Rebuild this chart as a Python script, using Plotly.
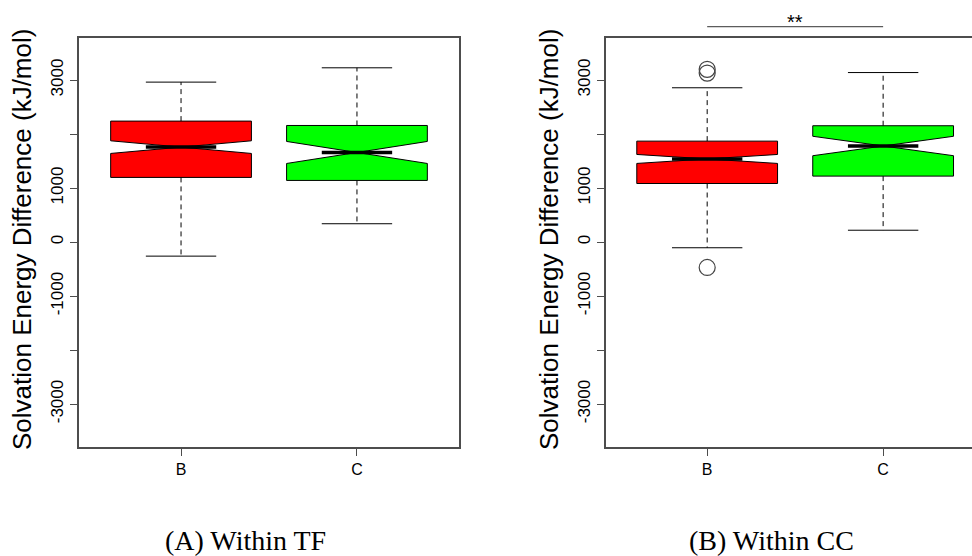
import plotly.graph_objects as go

# ---------------- data ----------------
groups = ["B", "C"]
positions = [1, 2]
box_colors = ["#FF0000", "#00FF00"]

# Panel A: Within TF
tf_lower = [-260, 340]
tf_q1 = [1198, 1142]
tf_median = [1759, 1660]
tf_q3 = [2241, 2160]
tf_upper = [2963, 3228]
tf_notch = [117, 204]
tf_out_x = []
tf_out_y = []

# Panel B: Within CC
cc_lower = [-105, 220]
cc_q1 = [1085, 1222]
cc_median = [1540, 1780]
cc_q3 = [1870, 2155]
cc_upper = [2858, 3140]
cc_notch = [83, 180]
cc_out_x = [1, 1, 1]
cc_out_y = [3200, 3130, -470]

y_tickvals = [-3000, -2000, -1000, 0, 1000, 2000, 3000]
y_ticktext = ["-3000", "", "-1000", "0", "1000", "", "3000"]

y_title = "Solvation Energy Difference (kJ/mol)"
captions = ["(A) Within TF", "(B) Within CC"]
signif_label = "**"

# ---------------- style ----------------
W, H = 972, 556
BOX_WIDTH = 0.8
CAP_HALF = 0.2
MED_HALF = 0.2
AXIS_COLOR = "#4d4d4d"
SANS = "Liberation Sans, Arial, sans-serif"
SERIF = "Liberation Serif, Times New Roman, serif"

fig = go.Figure()


def add_panel(xa, ya, lower, q1, med, q3, upper, notch, out_x, out_y):
    for i, pos in enumerate(positions):
        fig.add_trace(go.Box(
            x=[pos], q1=[q1[i]], median=[med[i]], q3=[q3[i]],
            lowerfence=[q1[i]], upperfence=[q3[i]],
            notchspan=[notch[i]], notched=True, notchwidth=0.5,
            width=BOX_WIDTH, whiskerwidth=0, boxpoints=False,
            orientation="v",
            fillcolor=box_colors[i], line=dict(color="black", width=1),
            xaxis=xa, yaxis=ya, showlegend=False, name=groups[i]))
        # dashed whiskers
        fig.add_trace(go.Scatter(
            x=[pos, pos, None, pos, pos],
            y=[q3[i], upper[i], None, q1[i], lower[i]],
            mode="lines", line=dict(color="black", width=1, dash="5px,4px"),
            xaxis=xa, yaxis=ya, showlegend=False, hoverinfo="skip"))
        # whisker caps
        fig.add_trace(go.Scatter(
            x=[pos - CAP_HALF, pos + CAP_HALF, None, pos - CAP_HALF, pos + CAP_HALF],
            y=[upper[i], upper[i], None, lower[i], lower[i]],
            mode="lines", line=dict(color="black", width=1),
            xaxis=xa, yaxis=ya, showlegend=False, hoverinfo="skip"))
        # thick median
        fig.add_trace(go.Scatter(
            x=[pos - MED_HALF, pos + MED_HALF], y=[med[i], med[i]],
            mode="lines", line=dict(color="black", width=3.5),
            xaxis=xa, yaxis=ya, showlegend=False, hoverinfo="skip"))
    if out_x:
        fig.add_trace(go.Scatter(
            x=out_x, y=out_y, mode="markers",
            marker=dict(symbol="circle-open", size=16, color="#444444",
                        line=dict(width=1.2, color="#444444")),
            xaxis=xa, yaxis=ya, showlegend=False))


add_panel("x", "y", tf_lower, tf_q1, tf_median, tf_q3, tf_upper, tf_notch, tf_out_x, tf_out_y)
add_panel("x2", "y2", cc_lower, cc_q1, cc_median, cc_q3, cc_upper, cc_notch, cc_out_x, cc_out_y)

xaxis_common = dict(
    tickvals=positions, ticktext=groups, showgrid=False, zeroline=False,
    showline=True, linecolor=AXIS_COLOR, linewidth=1.5, mirror=True,
    ticks="outside", ticklen=7, tickcolor=AXIS_COLOR, tickwidth=1,
    tickfont=dict(family=SANS, size=16, color="black"), automargin=False)
yaxis_common = dict(
    range=[-3795, 3780], tickvals=y_tickvals, ticktext=y_ticktext,
    showgrid=False, zeroline=False, showline=True, linecolor=AXIS_COLOR,
    linewidth=1.5, ticks="outside", ticklen=7, tickcolor=AXIS_COLOR,
    tickwidth=1, tickangle=-90,
    tickfont=dict(family=SANS, size=17, color="black"), automargin=False)

fig.update_layout(
    width=W, height=H,
    margin=dict(l=0, r=0, t=38, b=109, pad=0),
    plot_bgcolor="white", paper_bgcolor="white",
    xaxis=dict(domain=[79 / W, 459 / W], range=[0.42, 2.58], **xaxis_common),
    yaxis=dict(anchor="x", mirror=True, **yaxis_common),
    xaxis2=dict(domain=[606 / W, 1.0], range=[0.425, 2.505], anchor="y2", **xaxis_common),
    yaxis2=dict(anchor="x2", mirror=False, **yaxis_common),
)

# y-axis titles
for xpix in [22, 549]:
    fig.add_annotation(text=y_title, textangle=-90, x=xpix / W, y=0.506,
                       xref="paper", yref="paper", xanchor="center", yanchor="middle",
                       showarrow=False, font=dict(family=SANS, size=26, color="black"))

# captions
for txt, xpix in zip(captions, [245, 771]):
    fig.add_annotation(text=txt, x=xpix / W, y=-0.228, xref="paper", yref="paper",
                       xanchor="center", yanchor="middle", showarrow=False,
                       font=dict(family=SERIF, size=28, color="black"))

# significance bracket on panel B
fig.add_shape(type="line", xref="x2", yref="paper", x0=positions[0], x1=positions[1],
              y0=1.0276, y1=1.0276, line=dict(color="#333333", width=1))
fig.add_annotation(text=signif_label, x=sum(positions) / 2, y=1.038, xref="x2", yref="paper",
                   xanchor="center", yanchor="middle", showarrow=False,
                   font=dict(family=SANS, size=20, color="black"))

fig.write_html("out.html", config={"displayModeBar": False},
               post_script="document.body.style.margin='0px';document.body.style.overflow='hidden';")
